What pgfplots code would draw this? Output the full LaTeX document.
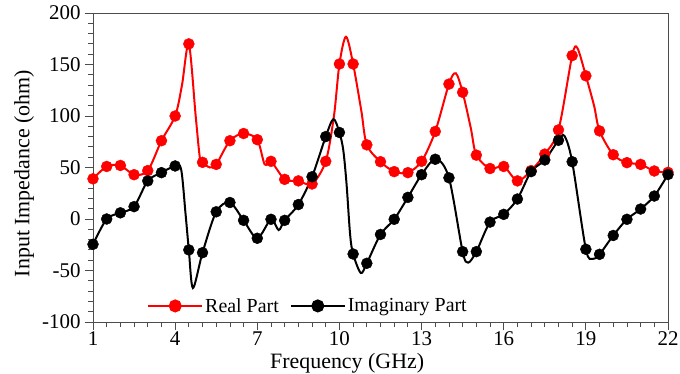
\documentclass[border=0pt]{standalone}
\usepackage{pgfplots}
\pgfplotsset{compat=1.18}
\usepackage{fontspec}
\setmainfont{Liberation Serif}[Ligatures=TeX]
\begin{document}
\begin{tikzpicture}
\path[use as bounding box] (-93bp,-52bp) rectangle (587bp,322bp);
\begin{axis}[
  at={(0,0)}, anchor=south west,
  scale only axis, width=575bp, height=309bp,
  xmin=1, xmax=22, ymin=-100, ymax=200,
  xtick={1,4,...,22}, ytick={-100,-50,...,200},
  minor x tick num=5, minor y tick num=4,
  axis line style={black!70, line width=0.9bp},
  every tick/.style={black!70, line width=0.8bp},
  tick align=outside,
  major tick length=8bp, minor tick length=5bp,
  xtick pos=bottom, ytick pos=left,
  /pgf/number format/assume math mode=true,
  ticklabel style={font=\rmfamily\fontsize{21}{23}\selectfont},
  yticklabel style={xshift=-1bp},
  xticklabel style={yshift=2bp},
  xlabel={Frequency (GHz)},
  ylabel={Input Impedance (ohm)},
  label style={font=\rmfamily\fontsize{22}{24}\selectfont},
  xlabel style={at={(axis description cs:0.442,-0.132)}, anchor=center},
  ylabel style={at={(axis description cs:-0.12,0.48)}, anchor=center},
  legend style={at={(axis description cs:0.094,0.052)}, anchor=west, draw=none, fill=none,
    font=\rmfamily\fontsize{20}{22}\selectfont, inner sep=0pt,
    /tikz/every even column/.append style={column sep=9bp}},
  legend columns=2,
  legend cell align=left,
  legend image code/.code={\draw[mark repeat=2,mark phase=2,#1] plot coordinates {(0bp,0bp) (27bp,0bp) (54bp,0bp)};},
]
% lines
\addplot[red, line width=2bp, smooth, no marks, forget plot] coordinates {
(1.0,39) (1.5,51) (2.0,52) (2.5,43) (3.0,47) (3.5,76) (4.0,100) (4.25,130) (4.5,170)
(4.75,100) (4.9,60) (5.0,55) (5.27,50) (5.5,53) (6.0,76) (6.5,83) (7.0,77) (7.27,53) (7.5,56)
(8.0,38.5) (8.5,37) (9.0,34) (9.5,56) (9.8,100) (10.0,150.5) (10.24,177) (10.5,150.5) (10.8,105)
(11.0,72) (11.5,55.6) (12.0,46) (12.5,45) (13.0,56) (13.5,85) (14.0,131) (14.25,141.5) (14.5,123)
(14.8,88) (15.0,62) (15.5,49) (16.0,51) (16.5,37) (17.0,47) (17.5,63) (18.0,86.5) (18.5,158.6)
(18.69,166) (19.0,139) (19.3,110) (19.5,85.5) (20.0,62.4) (20.5,54.7) (21.0,53) (21.5,46.6) (22.0,45.3)
};
\addplot[black, line width=2bp, smooth, no marks, forget plot] coordinates {
(1.0,-24.6) (1.5,0) (2.0,6) (2.5,12) (3.0,37) (3.5,45) (4.0,51.5) (4.22,48) (4.38,5) (4.5,-30)
(4.65,-67) (5.0,-32.7) (5.5,7) (6.0,16) (6.5,-1.3) (7.0,-18.7) (7.5,-0.3) (7.78,-10.7) (8.0,-1.3)
(8.5,14) (9.0,41) (9.5,80) (9.78,97) (10.0,84) (10.14,67) (10.26,34) (10.39,-15) (10.5,-34)
(10.78,-52.4) (11.0,-43) (11.5,-15) (12.0,-0.3) (12.5,21) (13.0,43) (13.52,58.4) (14.0,40)
(14.5,-31.7) (14.7,-42.4) (15.0,-31.7) (15.5,-3) (16.0,4.5) (16.5,19.4) (17.0,46) (17.5,57.3)
(18.0,76.4) (18.22,80.6) (18.5,55.6) (19.0,-29.4) (19.25,-38.8) (19.5,-34.3) (20.0,-16) (20.5,-0.3)
(21.0,9.7) (21.5,22.3) (22.0,43.2)
};
% markers
\addplot[red, only marks, mark=*, mark size=5.5bp, mark options={fill=red, draw=red}, forget plot] coordinates {
(1.0,39) (1.5,51) (2.0,52) (2.5,43) (3.0,47) (3.5,76) (4.0,100) (4.5,170) (5.0,55) (5.5,53)
(6.0,76) (6.5,83) (7.0,77) (7.5,56) (8.0,38.5) (8.5,37) (9.0,34) (9.5,56) (10.0,150.5) (10.5,150.5)
(11.0,72) (11.5,55.6) (12.0,46) (12.5,45) (13.0,56) (13.5,85) (14.0,131) (14.5,123) (15.0,62) (15.5,49)
(16.0,51) (16.5,37) (17.0,47) (17.5,63) (18.0,86.5) (18.5,158.6) (19.0,139) (19.5,85.5) (20.0,62.4)
(20.5,54.7) (21.0,53) (21.5,46.6) (22.0,45.3)
};
\addplot[black, only marks, mark=*, mark size=5.5bp, mark options={fill=black, draw=black}, forget plot] coordinates {
(1.0,-24.6) (1.5,0) (2.0,6) (2.5,12) (3.0,37) (3.5,45) (4.0,51.5) (4.5,-30) (5.0,-32.7) (5.5,7)
(6.0,16) (6.5,-1.3) (7.0,-18.7) (7.5,-0.3) (8.0,-1.3) (8.5,14) (9.0,41) (9.5,80) (10.0,84) (10.5,-34)
(11.0,-43) (11.5,-15) (12.0,-0.3) (12.5,21) (13.0,43) (13.5,58) (14.0,40) (14.5,-31.7) (15.0,-31.7)
(15.5,-3) (16.0,4.5) (16.5,19.4) (17.0,46) (17.5,57.3) (18.0,76.4) (18.5,55.6) (19.0,-29.4) (19.5,-34.3)
(20.0,-16) (20.5,-0.3) (21.0,9.7) (21.5,22.3) (22.0,43.2)
};
\addlegendimage{red, line width=2bp, mark=*, mark size=5.5bp, mark options={fill=red}}
\addlegendentry{Real Part}
\addlegendimage{black, line width=2bp, mark=*, mark size=5.5bp, mark options={fill=black}}
\addlegendentry{Imaginary Part}
\end{axis}
\end{tikzpicture}
\end{document}
